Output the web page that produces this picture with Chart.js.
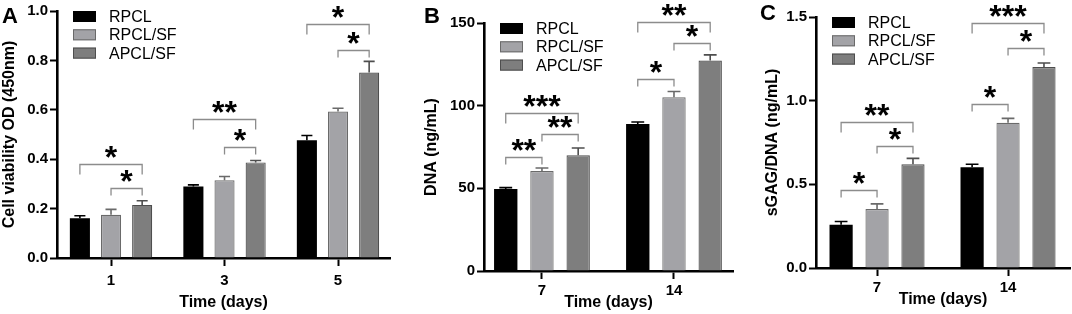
<!DOCTYPE html>
<html><head><meta charset="utf-8">
<script src="https://cdn.jsdelivr.net/npm/chart.js@4.4.1/dist/chart.umd.min.js"></script>
<style>
html,body{margin:0;padding:0;background:#fff;width:1072px;height:314px;overflow:hidden}
.p{position:absolute;top:0;height:314px}
</style></head><body>
<div class="p" style="left:0;width:400px"><canvas id="cA"></canvas></div>
<div class="p" style="left:400px;width:360px"><canvas id="cB"></canvas></div>
<div class="p" style="left:760px;width:312px"><canvas id="cC"></canvas></div>
<script>
// ---------- DATA ----------
const seriesNames = ['RPCL', 'RPCL/SF', 'APCL/SF'];

// Panel A: cell viability
const daysA = ['1', '3', '5'];
const rpclA = [0.161, 0.289, 0.477];
const rpclSfA = [0.175, 0.315, 0.593];
const apclSfA = [0.215, 0.387, 0.751];
const rpclAErr = [0.010, 0.007, 0.019];
const rpclSfAErr = [0.022, 0.015, 0.013];
const apclSfAErr = [0.017, 0.008, 0.045];
const yTicksA = [0, 0.2, 0.4, 0.6, 0.8, 1.0];
const yLabelsA = ['0.0', '0.2', '0.4', '0.6', '0.8', '1.0'];
// [category, from series, to series, level, label]
const sigA = [[0,0,2,0.380,'*'],[0,1,2,0.284,'*'],[1,0,2,0.564,'**'],[1,1,2,0.448,'*'],[2,0,2,0.946,'*'],[2,1,2,0.843,'*']];

// Panel B: DNA
const daysB = ['7', '14'];
const rpclB = [49.6, 88.9];
const rpclSfB = [60.5, 105.1];
const apclSfB = [70.0, 127.3];
const rpclBErr = [0.8, 1.2];
const rpclSfBErr = [1.8, 3.5];
const apclSfBErr = [4.4, 3.4];
const yTicksB = [0, 50, 100, 150];
const yLabelsB = ['0', '50', '100', '150'];
const sigB = [[0,0,2,95.6,'***'],[0,1,2,82.9,'**'],[0,0,1,69.0,'**'],[1,0,1,116.2,'*'],[1,1,2,137.7,'*'],[1,0,2,150.8,'**']];

// Panel C: sGAG/DNA
const daysC = ['7', '14'];
const rpclC = [0.258, 0.602];
const rpclSfC = [0.352, 0.868];
const apclSfC = [0.620, 1.201];
const rpclCErr = [0.020, 0.018];
const rpclSfCErr = [0.031, 0.026];
const apclSfCErr = [0.035, 0.024];
const yTicksC = [0, 0.5, 1.0, 1.5];
const yLabelsC = ['0.0', '0.5', '1.0', '1.5'];
const sigC = [[0,0,1,0.466,'*'],[0,1,2,0.731,'*'],[0,0,2,0.874,'**'],[1,0,1,0.979,'*'],[1,1,2,1.315,'*'],[1,0,2,1.464,'***']];

// ---------- STYLE ----------
const FAM = '"Liberation Sans", Arial, Helvetica, sans-serif';
Chart.defaults.font.family = FAM;
Chart.defaults.color = '#000';
const fills = ['#000000', '#a3a3a7', '#7e7e7e'];
const borders = ['#000000', '#6a6a6a', '#4e4e4e'];

const decor = {
  id: 'decor',
  afterDatasetsDraw(chart) {
    const ctx = chart.ctx, ys = chart.scales.y;
    ctx.save();
    // error bars (upper only)
    chart.data.datasets.forEach((ds, i) => {
      const meta = chart.getDatasetMeta(i);
      meta.data.forEach((bar, j) => {
        const top = ys.getPixelForValue(ds.data[j].y + ds.errs[j]);
        const w = bar.width * 0.55;
        ctx.strokeStyle = borders[i];
        ctx.lineWidth = 1.6;
        ctx.beginPath();
        ctx.moveTo(bar.x, bar.y);
        ctx.lineTo(bar.x, top);
        ctx.moveTo(bar.x - w / 2, top);
        ctx.lineTo(bar.x + w / 2, top);
        ctx.stroke();
      });
    });
    ctx.restore();
  },
  afterDraw(chart) {
    const ctx = chart.ctx, ys = chart.scales.y, ca = chart.chartArea, o = chart.options.plugins.decor;
    ctx.save();
    // significance brackets
    o.sig.forEach(([c, a, b, v, lab]) => {
      const xa = chart.getDatasetMeta(a).data[c].x;
      const xb = chart.getDatasetMeta(b).data[c].x;
      const y = Math.round(ys.getPixelForValue(v)) + 0.5;
      const drop = (b - a === 2) ? 10 : 7;
      ctx.strokeStyle = '#8c8c8c';
      ctx.lineWidth = 1.3;
      ctx.beginPath();
      ctx.moveTo(xa, y + drop);
      ctx.lineTo(xa, y);
      ctx.lineTo(xb, y);
      ctx.lineTo(xb, y + drop);
      ctx.stroke();
      ctx.fillStyle = '#000';
      ctx.font = 'bold 32px ' + FAM;
      ctx.textAlign = 'center';
      ctx.textBaseline = 'alphabetic';
      ctx.fillText(lab, (xa + xb) / 2, y + 3.5);
    });
    // legend
    chart.data.datasets.forEach((ds, i) => {
      const cy = ca.top + 5.5 + i * 18.3;
      const bx = ca.left + 16;
      ctx.fillStyle = fills[i];
      ctx.fillRect(bx, cy - 5.5, 23, 11);
      ctx.strokeStyle = borders[i];
      ctx.lineWidth = 1;
      ctx.strokeRect(bx + 0.5, cy - 5, 22, 10);
      ctx.fillStyle = '#000';
      ctx.font = '16px ' + FAM;
      ctx.textAlign = 'left';
      ctx.textBaseline = 'middle';
      ctx.fillText(ds.label, ca.left + 52, cy + 1);
    });
    // panel letter
    ctx.font = 'bold 22px ' + FAM;
    ctx.textAlign = 'left';
    ctx.textBaseline = 'top';
    ctx.fillStyle = '#000';
    ctx.fillText(o.letter, o.lx, o.ly);
    ctx.restore();
  }
};

function makeChart(id, p) {
  const datasets = p.vals.map((v, i) => ({
    label: seriesNames[i],
    data: v.map((y, j) => ({ x: j, y: y })),
    errs: p.errs[i],
    backgroundColor: fills[i],
    borderColor: borders[i],
    borderWidth: i === 0 ? 0 : 1.2,
    categoryPercentage: 0.823,
    barPercentage: 0.645
  }));
  return new Chart(document.getElementById(id), {
    type: 'bar',
    data: { datasets },
    options: {
      responsive: true, maintainAspectRatio: false, animation: false,
      layout: { padding: { left: 0, right: p.pr, top: p.pt, bottom: 0 } },
      plugins: {
        legend: { display: false }, tooltip: { enabled: false },
        decor: { sig: p.sig, letter: p.letter, lx: p.lx, ly: p.ly }
      },
      scales: {
        x: {
          type: 'linear', min: p.xmin, max: p.xmax, offset: false,
          afterBuildTicks: s => { s.ticks = p.cats.map((_, i) => ({ value: i })); },
          afterFit: s => { s.height = p.xh; },
          grid: { offset: false, drawOnChartArea: false, drawTicks: true, tickLength: 8, tickWidth: 2, color: '#000' },
          border: { display: true, color: '#000', width: 2.6 },
          ticks: { callback: v => p.cats[v], font: { weight: 'bold', size: 15 }, color: '#000', padding: p.xtp, maxRotation: 0, autoSkip: false },
          title: { display: true, text: 'Time (days)', font: { weight: 'bold', size: 16 }, color: '#000', padding: { top: 0, bottom: p.xtt } }
        },
        y: {
          min: p.ymin, max: p.ymax,
          afterBuildTicks: s => { s.ticks = p.yt.map(v => ({ value: v })); },
          afterFit: s => { s.width = p.yw; },
          grid: { offset: false, drawOnChartArea: false, drawTicks: true, tickLength: 7, tickWidth: 2, color: '#000' },
          border: { display: true, color: '#000', width: 2.6 },
          ticks: { callback: (v, i) => p.yl[i], font: { weight: 'bold', size: 15 }, color: '#000', padding: 2 },
          title: { display: true, text: p.ytitle, font: { weight: 'bold', size: 16 }, color: '#000', padding: { top: p.ytp, bottom: 0 } }
        }
      }
    },
    plugins: [decor]
  });
}

makeChart('cA', {
  cats: daysA, vals: [rpclA, rpclSfA, apclSfA], errs: [rpclAErr, rpclSfAErr, apclSfAErr],
  sig: sigA, yt: yTicksA, yl: yLabelsA, ymin: 0, ymax: 1.0,
  ytitle: 'Cell viability OD (450nm)', letter: 'A', lx: 2, ly: 6,
  xmin: -0.476, xmax: 2.458, yw: 57, pr: 10, pt: 10, xh: 56, xtp: 6, xtt: 1.4, ytp: 0
});
makeChart('cB', {
  cats: daysB, vals: [rpclB, rpclSfB, apclSfB], errs: [rpclBErr, rpclSfBErr, apclSfBErr],
  sig: sigB, yt: yTicksB, yl: yLabelsB, ymin: 0, ymax: 150,
  ytitle: 'DNA (ng/mL)', letter: 'B', lx: 24, ly: 6,
  xmin: -0.439, xmax: 1.447, yw: 84, pr: 27, pt: 23, xh: 43, xtp: 3, xtt: 1.4, ytp: 22.4
});
makeChart('cC', {
  cats: daysC, vals: [rpclC, rpclSfC, apclSfC], errs: [rpclCErr, rpclSfCErr, apclSfCErr],
  sig: sigC, yt: yTicksC, yl: yLabelsC, ymin: 0, ymax: 1.5,
  ytitle: 'sGAG/DNA (ng/mL)', letter: 'C', lx: 0, ly: 3,
  xmin: -0.466, xmax: 1.473, yw: 56, pr: 2, pt: 17, xh: 46, xtp: 3, xtt: 4.4, ytp: 3.4
});
</script>
</body></html>
